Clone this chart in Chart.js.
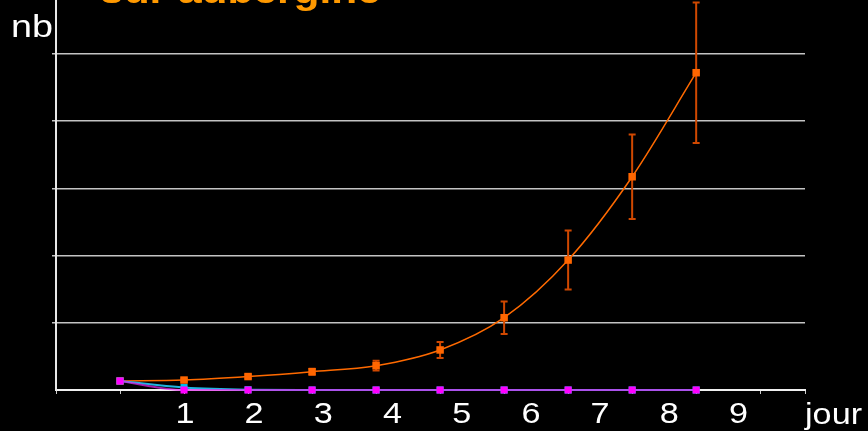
<!DOCTYPE html>
<html>
<head>
<meta charset="utf-8">
<script src="https://cdn.jsdelivr.net/npm/chart.js@4/dist/chart.umd.min.js"></script>
<style>
  html, body { margin: 0; padding: 0; background: #000; }
  #wrap { width: 868px; height: 431px; position: relative; }
</style>
</head>
<body>
<div id="wrap"><canvas id="c" width="868" height="431"></canvas></div>
<script>
// Sampling days (one point per day)
const sampleDay = [0, 1, 2, 3, 4, 5, 6, 7, 8, 9];
// Mean count on aubergine, with its error (± half-range)
const larvae    = [6.7, 7.4, 10.0, 13.6, 18.1, 29.8, 53.8, 96.7, 158.7, 236.1];
const larvaeErr = [0, 1.2, 1.5, 2.2, 3.6, 6.0, 12.1, 22.0, 31.5, 52.3];
// The two declining series
const seriesCyan    = [6.7, 1.8, 0.2, 0, 0, 0, 0, 0, 0, 0];
const seriesMagenta = [6.7, 0, 0, 0, 0, 0, 0, 0, 0, 0];
// Day labels under the axis
const dayLabels = [1, 2, 3, 4, 5, 6, 7, 8, 9];
const titleText = 'sur aubergine';
const yAxisText = 'nb';
const xAxisText = 'jour';

const STRETCH = 1.18;
function wideText(ctx, text, x, y, font, color, align) {
  ctx.save();
  ctx.font = font;
  ctx.fillStyle = color;
  ctx.textBaseline = 'alphabetic';
  ctx.textAlign = align;
  ctx.translate(x, y);
  ctx.scale(STRETCH, 1);
  ctx.fillText(text, 0, 0);
  ctx.restore();
}

const toXY = (vals) => vals.map((v, i) => ({ x: sampleDay[i], y: v }));

// Vertical error bars with caps, drawn under the markers
const errorBars = {
  id: 'errorBars',
  beforeDatasetsDraw(chart) {
    const { ctx } = chart;
    const xs = chart.scales.x, ys = chart.scales.y;
    ctx.save();
    ctx.strokeStyle = '#D04800';
    ctx.lineWidth = 2;
    larvae.forEach((v, i) => {
      const e = larvaeErr[i];
      if (!e) return;
      const px = xs.getPixelForValue(sampleDay[i]);
      const top = ys.getPixelForValue(v + e);
      const bot = ys.getPixelForValue(v - e);
      ctx.beginPath();
      ctx.moveTo(px, top); ctx.lineTo(px, bot);
      ctx.moveTo(px - 3.5, top); ctx.lineTo(px + 3.5, top);
      ctx.moveTo(px - 3.5, bot); ctx.lineTo(px + 3.5, bot);
      ctx.stroke();
    });
    ctx.restore();
  }
};

// Title, axis names and day labels
const texts = {
  id: 'texts',
  afterDraw(chart) {
    const { ctx } = chart;
    const dayScale = chart.scales.xDay;
    wideText(ctx, titleText, 100, 3, 'bold 36px "Liberation Sans", Arial, sans-serif', '#FF9900', 'left');
    wideText(ctx, yAxisText, 53, 37, '32px "Liberation Sans", Arial, sans-serif', '#FFFFFF', 'right');
    dayLabels.forEach((d) => {
      wideText(ctx, String(d), dayScale.getPixelForValue(d), 423, '29px "Liberation Sans", Arial, sans-serif', '#FFFFFF', 'center');
    });
    wideText(ctx, xAxisText, 805, 424, '29px "Liberation Sans", Arial, sans-serif', '#FFFFFF', 'left');
  }
};

new Chart(document.getElementById('c'), {
  type: 'line',
  data: {
    datasets: [
      {
        label: 'magenta',
        data: toXY(seriesMagenta),
        borderColor: 'rgba(230, 40, 240, 0.7)',
        backgroundColor: '#FF00FF',
        borderWidth: 2,
        pointStyle: 'rect',
        pointRadius: 5,
        pointBorderWidth: 0,
        cubicInterpolationMode: 'monotone',
        clip: false,
        xAxisID: 'x', yAxisID: 'y'
      },
      {
        label: 'cyan',
        data: toXY(seriesCyan),
        borderColor: '#1FB4E0',
        backgroundColor: '#00C0F0',
        borderWidth: 2,
        pointStyle: 'rect',
        pointRadius: 5,
        pointBorderWidth: 0,
        cubicInterpolationMode: 'monotone',
        clip: false,
        xAxisID: 'x', yAxisID: 'y'
      },
      {
        label: 'orange',
        data: toXY(larvae),
        borderColor: '#FF6A00',
        backgroundColor: '#FF6600',
        borderWidth: 1.5,
        pointStyle: 'rect',
        pointRadius: 5.3,
        pointBorderWidth: 0,
        cubicInterpolationMode: 'monotone',
        clip: false,
        xAxisID: 'x', yAxisID: 'y'
      }
    ]
  },
  options: {
    responsive: false,
    animation: false,
    events: [],
    layout: { autoPadding: false, padding: { left: 0, right: 63, top: 0, bottom: 0 } },
    plugins: { legend: { display: false }, tooltip: { enabled: false } },
    scales: {
      x: {
        type: 'linear',
        position: 'bottom',
        min: -1,
        max: 10.7,
        ticks: { display: false, stepSize: 1 },
        grid: { drawOnChartArea: false, drawTicks: true, tickLength: 4, color: '#CCCCCC', lineWidth: 1 },
        border: { display: true, color: '#F0F0F0', width: 2 },
        afterFit(s) { s.height = 0; }
      },
      xDay: {
        type: 'linear',
        position: 'bottom',
        min: -0.863,
        max: 9.961,
        ticks: { display: false },
        grid: { display: false },
        border: { display: false },
        afterFit(s) { s.height = 41; }
      },
      y: {
        type: 'linear',
        min: 0,
        max: 290.2,
        ticks: { display: false, stepSize: 50 },
        afterBuildTicks(s) { s.ticks = s.ticks.filter(t => t.value > 0 && t.value % 50 === 0); },
        grid: { color: '#C4C4C4', lineWidth: 1.5, drawTicks: true, tickLength: 4 },
        border: { display: true, color: '#E8E8E8', width: 2 },
        afterFit(s) { s.width = 56; }
      }
    }
  },
  plugins: [errorBars, texts]
});
</script>
</body>
</html>
